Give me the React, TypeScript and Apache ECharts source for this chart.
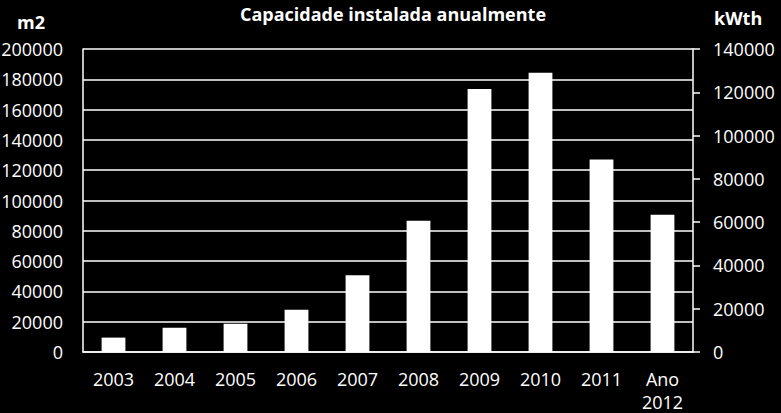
import React, { useEffect, useRef } from "react";
import * as echarts from "echarts";

const categories = ["2003", "2004", "2005", "2006", "2007", "2008", "2009", "2010", "2011", "Ano\n2012"];
const areaValues = [9500, 16000, 18700, 27900, 50600, 86700, 173600, 184400, 127000, 90600];
const leftTicks = { min: 0, max: 200000, interval: 20000 };
const rightTicks = { min: 0, max: 140000, interval: 20000 };
const titleText = "Capacidade instalada anualmente";
const leftUnit = "m2";
const rightUnit = "kWth";

const FONT = "'Open Sans', 'DejaVu Sans', sans-serif";
const plain = (v: number) => String(v);

export default function App() {
  const ref = useRef<HTMLDivElement>(null);
  useEffect(() => {
    if (!ref.current) return;
    const chart = echarts.init(ref.current, undefined, { renderer: "svg" });
    chart.setOption({
      animation: false,
      backgroundColor: "#000000",
      title: {
        text: titleText,
        left: 388,
        textAlign: "center",
        top: 0,
        textStyle: { color: "#ffffff", fontFamily: FONT, fontWeight: "bold", fontSize: 18 },
      },
      graphic: [
        { type: "text", left: 17, top: 13, style: { text: leftUnit, fill: "#ffffff", font: `bold 18px ${FONT}` } },
        { type: "text", left: 714, top: 9, style: { text: rightUnit, fill: "#ffffff", font: `bold 18px ${FONT}` } },
      ],
      grid: { left: 83, right: 88, top: 49, bottom: 61, containLabel: false, outerBoundsMode: "none" },
      xAxis: {
        type: "category",
        data: categories,
        axisLine: { show: true, lineStyle: { color: "#ffffff", width: 1.5 } },
        axisTick: { show: false },
        axisLabel: { color: "#ffffff", fontFamily: FONT, fontSize: 18, margin: 15, lineHeight: 23, interval: 0 },
      },
      yAxis: [
        {
          type: "value",
          position: "left",
          min: leftTicks.min,
          max: leftTicks.max,
          interval: leftTicks.interval,
          axisLine: { show: true, lineStyle: { color: "#ffffff", width: 1.5 } },
          axisTick: { show: false },
          splitLine: { show: true, lineStyle: { color: "#ffffff", width: 1.5 } },
          axisLabel: { color: "#ffffff", fontFamily: FONT, fontSize: 18, margin: 20, formatter: plain },
        },
        {
          type: "value",
          position: "right",
          min: rightTicks.min,
          max: rightTicks.max,
          interval: rightTicks.interval,
          axisLine: { show: true, lineStyle: { color: "#ffffff", width: 1.5 } },
          axisTick: { show: true, length: 7, lineStyle: { color: "#ffffff", width: 1.5 } },
          splitLine: { show: false },
          axisLabel: { color: "#ffffff", fontFamily: FONT, fontSize: 18, margin: 20, formatter: plain },
        },
      ],
      series: [
        {
          type: "bar",
          yAxisIndex: 0,
          data: areaValues,
          barWidth: "39%",
          itemStyle: { color: "#ffffff" },
        },
      ],
    });
    return () => chart.dispose();
  }, []);
  return (
    <div
      ref={ref}
      style={{ position: "absolute", left: 0, top: 0, width: 781, height: 413 }}
    />
  );
}
